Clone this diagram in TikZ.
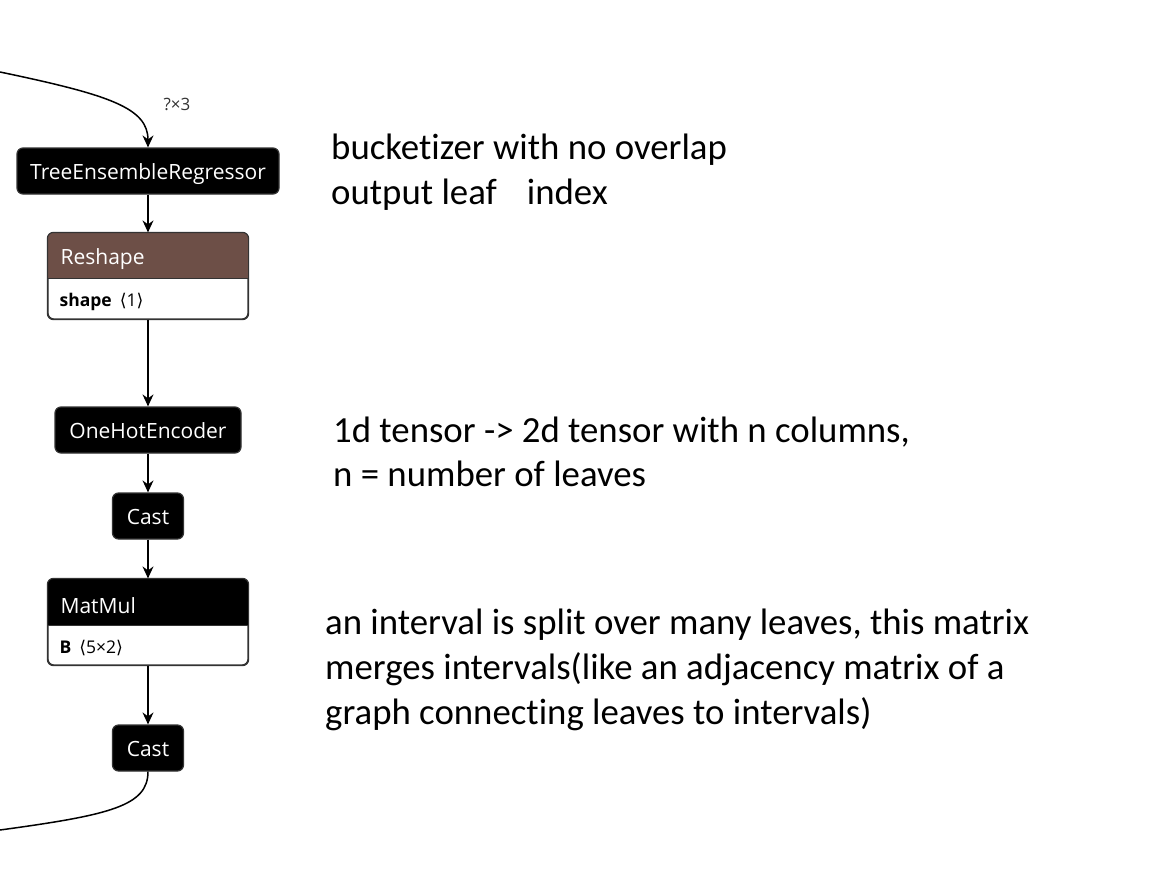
\documentclass[tikz,border=0pt]{standalone}
\usepackage{fontspec}
\setmainfont{Carlito}[RawFeature=-liga]
\newfontfamily\uifont{Open Sans}
\newfontfamily\symfont{DejaVu Sans}
\usetikzlibrary{arrows.meta}
\definecolor{bord}{HTML}{333333}
\definecolor{brownhead}{HTML}{6D4F47}
\begin{document}
\begin{tikzpicture}[x=1pt,y=-1pt,
  op/.style={draw=bord, line width=1.2pt, fill=black, rounded corners=6pt, text=white,
    font=\uifont\fontsize{21}{24}\selectfont, minimum height=46pt, inner xsep=0pt, inner ysep=0pt,
    text height=18pt, text depth=2pt},
  card/.style={draw=bord, line width=1.2pt, fill=white, rounded corners=6pt,
    minimum width=200pt, minimum height=86pt, inner sep=0pt},
  headlbl/.style={anchor=west, inner sep=0pt, text=white, font=\uifont\fontsize{21}{24}\selectfont},
  attrlbl/.style={anchor=west, inner sep=0pt, text=black, font=\uifont\fontsize{17.5}{21}\selectfont},
  edge/.style={line width=1.5pt, -{Stealth[length=12pt,width=11pt,inset=4pt]}},
  plainedge/.style={line width=1.5pt},
  note/.style={anchor=base west, inner sep=0pt, font=\fontsize{36.8}{45}\selectfont},
  shapelbl/.style={inner sep=0pt, text=bord, font=\uifont\fontsize{17}{20}\selectfont}
]
\useasboundingbox (0,0) rectangle (1156,886);

% simple operator nodes
\node[op, minimum width=262pt] (ter) at (148,171) {TreeEnsembleRegressor};
\node[op, minimum width=186pt] (ohe) at (148,430) {OneHotEncoder};
\node[op, minimum width=71pt] (cast1) at (148,516) {Cast};
\node[op, minimum width=71pt] (cast2) at (148,748) {Cast};

% Reshape card
\node[card] (reshape) at (148,276) {};
\begin{scope}
  \clip[rounded corners=6pt] (reshape.north west) rectangle (reshape.south east);
  \fill[brownhead] (reshape.north west) rectangle ([yshift=-46pt]reshape.north east);
\end{scope}
\draw[bord, line width=1.2pt] ([yshift=-46pt]reshape.north west) -- ([yshift=-46pt]reshape.north east);
\draw[bord, line width=1.2pt, rounded corners=6pt] (reshape.north west) rectangle (reshape.south east);
\node[headlbl] (reshapelbl) at ([xshift=13pt,yshift=-27pt]reshape.north west) {Reshape};
\node[attrlbl] (reshapeattr) at ([xshift=12pt,yshift=-70pt]reshape.north west) {\textbf{shape}\hspace{8pt}{\symfont ⟨}1{\symfont ⟩}};

% MatMul card
\node[card] (matmul) at (148,622) {};
\begin{scope}
  \clip[rounded corners=6pt] (matmul.north west) rectangle (matmul.south east);
  \fill[black] (matmul.north west) rectangle ([yshift=-47pt]matmul.north east);
\end{scope}
\draw[bord, line width=1.2pt] ([yshift=-47pt]matmul.north west) -- ([yshift=-47pt]matmul.north east);
\draw[bord, line width=1.2pt, rounded corners=6pt] (matmul.north west) rectangle (matmul.south east);
\node[headlbl] (matmullbl) at ([xshift=13pt,yshift=-27.5pt]matmul.north west) {MatMul};
\node[attrlbl] (matmulattr) at ([xshift=12pt,yshift=-70pt]matmul.north west) {\textbf{B}\hspace{8pt}{\symfont ⟨}5×2{\symfont ⟩}};

% connectors
\coordinate (topin) at (0,72);
\coordinate (botout) at (0,830);
\draw[edge] (topin) .. controls (110,95) and (148,108) .. (ter.north);
\node[shapelbl] (tershape) at (177,104) {?×3};
\draw[edge] (ter.south) -- (reshape.north);
\draw[edge] (reshape.south) -- (ohe.north);
\draw[edge] (ohe.south) -- (cast1.north);
\draw[edge] (cast1.south) -- (matmul.north);
\draw[edge] (matmul.south) -- (cast2.north);
\draw[plainedge] (cast2.south) .. controls (148,806) and (110,815) .. (botout);

% annotations
\node[note] (n1a) at (331,159) {bucketizer with no overlap};
\node[note] (n1b) at (331,204) {output leaf\hspace{30pt}index};
\node[note] (n2a) at (333,442) {1d tensor -> 2d tensor with n columns,};
\node[note] (n2b) at (333,486) {n = number of leaves};
\node[note] (n3a) at (325,634) {an interval is split over many leaves, this matrix};
\node[note] (n3b) at (325,679) {merges intervals(like an adjacency matrix of a};
\node[note] (n3c) at (325,724) {graph connecting leaves to intervals)};
\end{tikzpicture}
\end{document}
